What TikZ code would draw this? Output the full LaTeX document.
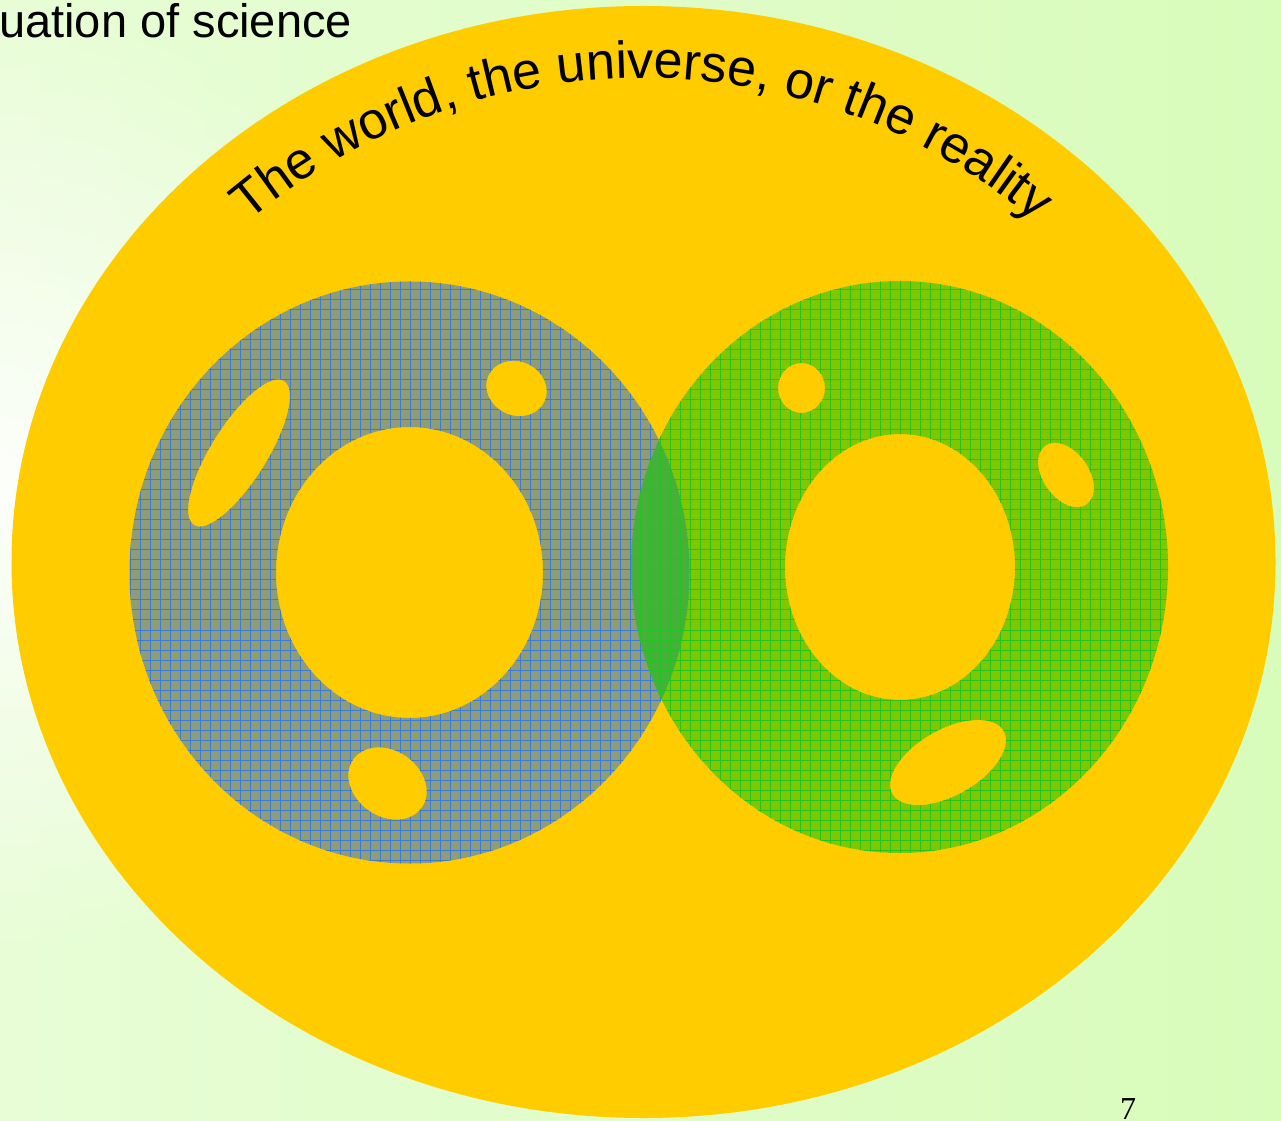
\documentclass[tikz,border=0pt]{standalone}
\usepackage{fontspec}
\setmainfont{Liberation Sans}
\newfontfamily\serifnum{Liberation Serif}
\usetikzlibrary{decorations.text,fadings}
\tikzfading[name=leftglow, inner color=transparent!0, outer color=transparent!100]
\definecolor{bgL}{HTML}{E8FDD6}
\definecolor{bgR}{HTML}{D8FCBA}
\definecolor{gold}{HTML}{FFCC00}
\definecolor{ringgray}{HTML}{8E9C78}
\definecolor{gridblue}{HTML}{3A7AD8}
\definecolor{ringgreen}{HTML}{00C400}
\definecolor{gridgreen}{HTML}{22C422}
\tikzset{
  gridlines/.style={line width=1pt, step=10},
}
\begin{document}
\begin{tikzpicture}[x=1pt,y=1pt]
\useasboundingbox (0,0) rectangle (1281,1120);
\shade[left color=bgL, right color=bgR] (0,0) rectangle (1281,1120);
\fill[white, opacity=0.9, path fading=leftglow] (0,640) circle (480);
% world ellipse
\fill[gold] (643.5,558) ellipse [x radius=632, y radius=556];
% left ring
\begin{scope}[even odd rule]
\clip (409.5,547.5) ellipse [x radius=280, y radius=291]
  (409.5,547.5) ellipse [x radius=133.5, y radius=145.5]
  (239,667) ellipse [x radius=85, y radius=28, rotate=58]
  (516.5,731.5) ellipse [x radius=31, y radius=27, rotate=-25]
  (387.5,336.5) ellipse [x radius=42, y radius=33, rotate=-35];
\fill[ringgray] (120,250) rectangle (700,850);
\draw[gridblue, gridlines] (120,250) grid (700,850);
\end{scope}
% right ring
\begin{scope}[even odd rule]
\clip (899.5,553) ellipse [x radius=268.5, y radius=286]
  (900,553) ellipse [x radius=115, y radius=133]
  (801.5,732) ellipse [x radius=23.5, y radius=25]
  (1066,645) ellipse [x radius=36, y radius=23, rotate=-55]
  (948,357.5) ellipse [x radius=64, y radius=33, rotate=29.5];
\fill[ringgreen, opacity=0.5] (620,260) rectangle (1180,850);
\draw[gridgreen, gridlines] (620,260) grid (1180,850);
\end{scope}
% curved label
\path[decorate, decoration={text along path, text align=center,
  text={|\fontsize{52}{52}\selectfont|The world{,} the universe{,} or the reality}}]
  (642,432) ++(140:610) arc [start angle=140, end angle=40, radius=610];
\node[anchor=base west, inner sep=0, font=\fontsize{47}{50}\selectfont] (title) at (-1,1082) {uation of science};
\node[anchor=base, inner sep=0, font=\serifnum\fontsize{32}{32}\selectfont] (pagenum) at (1128,1) {7};
\end{tikzpicture}
\end{document}
